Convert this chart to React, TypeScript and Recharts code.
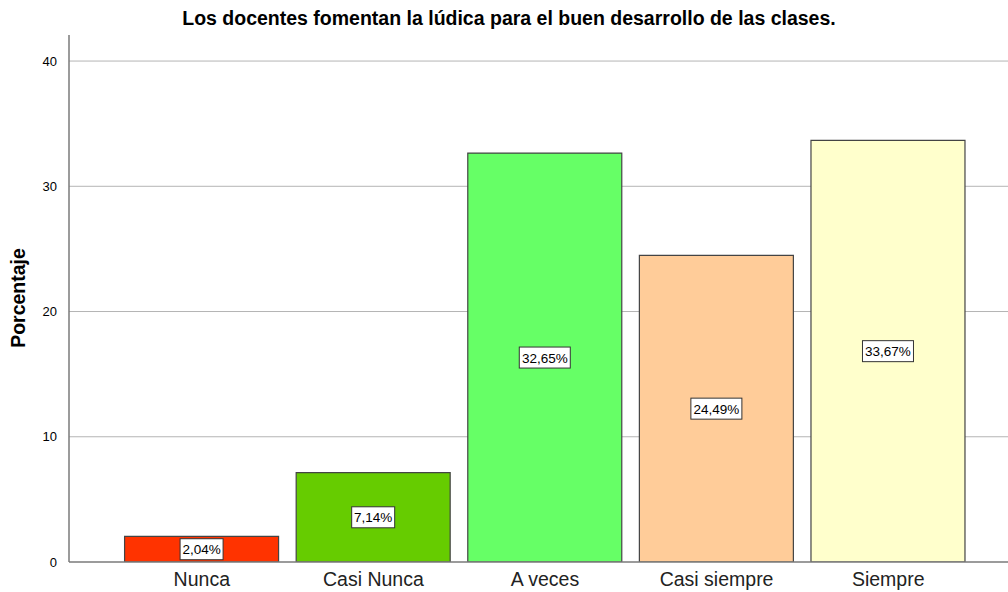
import React from 'react';
import { BarChart, Bar, XAxis, YAxis, CartesianGrid, Cell, LabelList } from 'recharts';

// categorías y porcentajes
const categories = ['Nunca', 'Casi Nunca', 'A veces', 'Casi siempre', 'Siempre'];
const percentages = [2.04, 7.14, 32.65, 24.49, 33.67];
const COLORS = ['#FF3300', '#66CC00', '#66FF66', '#FFCC99', '#FFFFCC'];
const yTicks = [0, 10, 20, 30, 40];

const data = categories.map((name, i) => ({ name, value: percentages[i] }));

const FONT = '"Liberation Sans", Arial, sans-serif';

const BoxLabel = (props: any) => {
  const { x, y, width, height, value } = props;
  const text = value.toFixed(2).replace('.', ',') + '%';
  const cx = x + width / 2;
  const cy = y + height / 2;
  const w = text.length > 5 ? 51 : 43;
  const h = 21;
  return (
    <g>
      <rect x={cx - w / 2} y={cy - h / 2} width={w} height={h} fill="#fff" stroke="#333" strokeWidth={1} />
      <text x={cx} y={cy + 5} textAnchor="middle" fontSize={13.5} fontFamily={FONT} fill="#000">
        {text}
      </text>
    </g>
  );
};

const App = () => {
  return (
    <div style={{ position: 'absolute', left: 0, top: 0, width: 1008, height: 592, background: '#fff' }}>
      <BarChart
        width={1008}
        height={592}
        data={data}
        margin={{ top: 35, right: 0, bottom: 0, left: 0 }}
        barCategoryGap="5%"
      >
        <text x={509} y={25} textAnchor="middle" fontSize={19.5} fontWeight="bold" fontFamily={FONT} fill="#000">
          Los docentes fomentan la lúdica para el buen desarrollo de las clases.
        </text>
        <text
          x={25}
          y={298}
          textAnchor="middle"
          fontSize={19.5}
          fontWeight="bold"
          fontFamily={FONT}
          fill="#000"
          transform="rotate(-90 25 298)"
        >
          Porcentaje
        </text>
        <CartesianGrid vertical={false} stroke="#b4b4b4" horizontalValues={[10, 20, 30, 40]} />
        <XAxis
          dataKey="name"
          height={30}
          padding={{ left: 47, right: 34 }}
          tickLine={false}
          axisLine={{ stroke: '#7a7a7a', strokeWidth: 1.5 }}
          tick={{ fontSize: 19.5, fill: '#222', fontFamily: FONT }}
          tickMargin={4}
        />
        <YAxis
          width={69}
          domain={[0, 42.08]}
          ticks={yTicks}
          allowDataOverflow
          tickLine={false}
          axisLine={{ stroke: '#7a7a7a', strokeWidth: 1.5 }}
          tick={{ fontSize: 13, fill: '#000', fontFamily: FONT }}
          tickMargin={6}
        />
        <Bar dataKey="value" stroke="#444" strokeWidth={1.2} isAnimationActive={false}>
          {data.map((entry, index) => (
            <Cell key={`cell-${index}`} fill={COLORS[index % COLORS.length]} />
          ))}
          <LabelList dataKey="value" content={BoxLabel} />
        </Bar>
      </BarChart>
    </div>
  );
};

export default App;
